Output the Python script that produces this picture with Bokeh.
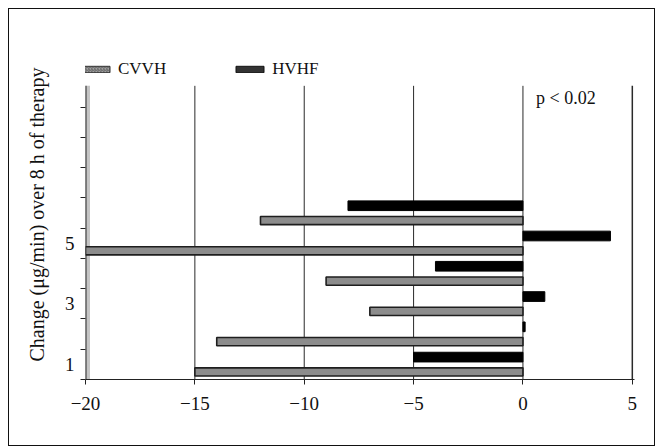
from bokeh.plotting import figure
from bokeh.models import (ColumnDataSource, FixedTicker, Legend, LegendItem, Label)
from bokeh.embed import file_html
from bokeh.resources import INLINE

# data (bottom to top)
patients = [1, 2, 3, 4, 5, 6]
cvvh = [-15, -14, -7, -9, -20, -12]
hvhf = [-5, 0.1, 1, -4, 4, -8]
x_ticks = [-20, -15, -10, -5, 0, 5]
y_labels = {1: "1", 3: "3", 5: "5"}
n_slots = 10                      # category slots on the value axis
y_bottom, y_top = 0.5, 10.2       # extent of the plotting wall
y_frame_top = 11.4                # room for the legend above the wall

FONT = "Liberation Serif"

src = ColumnDataSource(dict(
    y_c=[p_ - 0.25 for p_ in patients],
    y_h=[p_ + 0.24 for p_ in patients],
    cvvh=cvvh, hvhf=hvhf,
))

p = figure(width=647, height=438, output_backend="svg", toolbar_location=None,
           x_range=(x_ticks[0], x_ticks[-1] + 0.1), y_range=(y_bottom, y_frame_top),
           min_border_left=76, min_border_right=22, min_border_top=40,
           min_border_bottom=68)
p.styles = {"border": "1px solid #111111", "margin-left": "8px", "margin-top": "8px"}
p.outline_line_color = None
p.background_fill_color = "white"
p.xgrid.grid_line_color = None
p.ygrid.grid_line_color = None

n = len(x_ticks)
# left wall
p.segment(x0=[x_ticks[0]], x1=[x_ticks[0]], y0=[y_bottom], y1=[y_top],
          line_color="#c4c4c4", line_width=9)
p.segment(x0=[x_ticks[0]], x1=[x_ticks[0]], y0=[y_bottom], y1=[y_top],
          line_color="#2a2a2a", line_width=2)
# vertical gridlines, limited to the wall height
p.segment(x0=x_ticks[1:-1], x1=x_ticks[1:-1], y0=[y_bottom] * (n - 2), y1=[y_top] * (n - 2),
          line_color="#2a2a2a", line_width=1)
p.segment(x0=[x_ticks[-1]], x1=[x_ticks[-1]], y0=[y_bottom], y1=[y_top],
          line_color="#2a2a2a", line_width=1.5)

# bars
r_c = p.hbar(y="y_c", left=0, right="cvvh", height=0.27, source=src,
             fill_color="#8c8c8c", line_color="#1e1e1e", line_width=1.6)
r_h = p.hbar(y="y_h", left=0, right="hvhf", height=0.32, source=src,
             fill_color="#000000", line_color="#000000", line_width=1)

# legend swatches (style only, no visible marks)
dummy = ColumnDataSource(dict(y=[float("nan")], r=[float("nan")]))
lg_c = p.hbar(y="y", left=0, right="r", height=0.3, source=dummy,
              fill_color="#a0a0a0", line_color="#333333", hatch_pattern="/",
              hatch_color="#555555", hatch_scale=3, hatch_weight=0.8)
lg_h = p.hbar(y="y", left=0, right="r", height=0.3, source=dummy,
              fill_color="#333333", line_color="#111111")
legend = Legend(items=[LegendItem(label="CVVH", renderers=[lg_c]),
                       LegendItem(label="HVHF", renderers=[lg_h])],
                orientation="horizontal", location=(-7, 300),
                border_line_color=None, background_fill_alpha=0,
                label_text_font=FONT, label_text_font_size="17px",
                label_text_color="#111111",
                glyph_width=35, glyph_height=8, spacing=66,
                margin=0, padding=7, label_standoff=5)
p.add_layout(legend)

# x axis
xa = p.xaxis[0]
xa.ticker = FixedTicker(ticks=x_ticks, minor_ticks=[])
xa.major_label_overrides = {t: (("\u2212" + str(-t)) if t < 0 else str(t)) for t in x_ticks}
xa.major_label_text_font = FONT
xa.major_label_text_font_size = "19px"
xa.major_label_text_color = "#111111"
xa.major_label_standoff = 12
xa.major_tick_in = 0
xa.major_tick_out = 5
xa.axis_line_color = "#222222"
xa.major_tick_line_color = "#222222"

# y axis
ya = p.yaxis[0]
ya.ticker = FixedTicker(ticks=list(y_labels.keys()),
                        minor_ticks=[i + 0.5 for i in range(0, n_slots)])
ya.major_label_overrides = y_labels
ya.major_tick_line_color = None
ya.minor_tick_in = 0
ya.minor_tick_out = 5
ya.minor_tick_line_color = "#222222"
ya.axis_line_color = None
ya.major_label_text_font = FONT
ya.major_label_text_font_size = "19px"
ya.major_label_text_color = "#111111"
ya.major_label_standoff = 5
ya.axis_label = "Change (\u03bcg/min) over 8 h of therapy"
ya.axis_label_text_font = FONT
ya.axis_label_text_font_size = "20px"
ya.axis_label_text_font_style = "normal"
ya.axis_label_text_color = "#111111"
ya.axis_label_standoff = 14

p.add_layout(Label(x=0.6, y=9.8, text="p < 0.02", text_font=FONT,
                   text_font_size="18px", text_color="#111111",
                   text_baseline="middle"))

open("out.html", "w").write(file_html(p, INLINE))
